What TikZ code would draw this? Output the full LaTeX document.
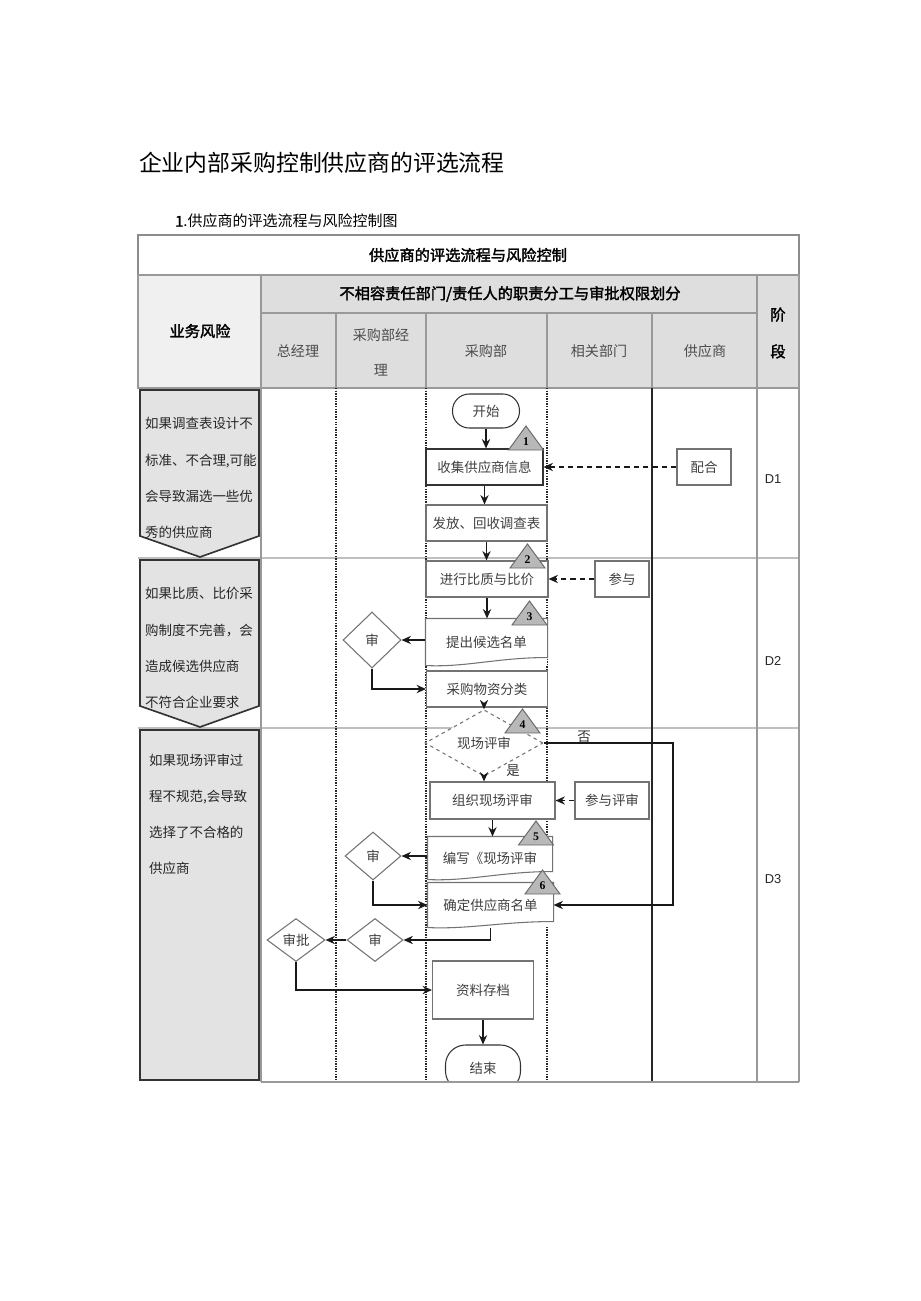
\documentclass[tikz,border=0pt]{standalone}
\usepackage{fontspec}
\setmainfont{Noto Sans CJK SC}
\newfontfamily\boldcjk{Noto Sans CJK SC}[FakeBold=2]
\newfontfamily\serifnum{Liberation Serif}
\newfontfamily\stagefont{Liberation Sans}
\usetikzlibrary{arrows.meta,shapes.geometric}

\begin{document}
\begin{tikzpicture}[
  x=0.03cm, y=-0.03cm,
  frame/.style={draw=black!45, line width=1.4pt},
  hdr/.style={fill=black!13},
  hdrlt/.style={fill=black!6},
  hline/.style={black!40, line width=1.4pt},
  lane/.style={black!85, line width=1.2pt, densely dotted},
  riskbox/.style={draw=black!80, fill=black!11, line width=1.4pt},
  risktxt/.style={anchor=west, align=left, text=black!85,
                  font=\fontsize{11.5}{30.8}\selectfont},
  htxt/.style={font=\boldcjk\fontsize{13}{16}\selectfont},
  ctxt/.style={text=black!70, align=center, font=\fontsize{12}{30}\selectfont},
  proc/.style={draw=black!55, fill=white, line width=0.9pt,
               minimum width=121*0.03cm, minimum height=36*0.03cm, inner sep=1pt,
               text=black!75, font=\fontsize{11.5}{14}\selectfont},
  docbox/.style={proc, draw=none},
  docline/.style={draw=black!55, line width=0.9pt},
  term/.style={proc, draw=black!80, rounded corners=0.5cm,
               minimum width=67*0.03cm, minimum height=34*0.03cm},
  decide/.style={diamond, draw=black!55, fill=white, line width=0.9pt, inner sep=0pt,
                 minimum width=58*0.03cm, minimum height=56*0.03cm,
                 text=black!75, font=\fontsize{11.5}{14}\selectfont},
  arr/.style={-{Stealth[length=8pt,width=7pt]}, line width=1.3pt, black!90},
  darr/.style={arr, dash pattern=on 4.5pt off 3.5pt},
  numtri/.style={fill=black!28, draw=black!60, line width=0.8pt},
  numlbl/.style={inner sep=0pt, font=\serifnum\bfseries\fontsize{10}{10}\selectfont},
  lbl/.style={inner sep=1pt, text=black!80, font=\fontsize{11.5}{14}\selectfont},
  stage/.style={text=black!85, font=\stagefont\fontsize{11}{13}\selectfont},
]
  \useasboundingbox (0,0) rectangle (920,1301);

  % --- Titles ---
  \node[anchor=west, font=\fontsize{19.5}{22}\selectfont] (title) at (135,163)
    {企业内部采购控制供应商的评选流程};
  \node[anchor=west, font=\fontsize{12.8}{15}\selectfont] (subtitle) at (171,221)
    {{\boldcjk 1}.供应商的评选流程与风险控制图};

  % --- Table head ---
  \fill[hdr] (261,275) rectangle (799,388);
  \fill[hdrlt] (138,275) rectangle (261,388);
  \draw[frame] (138,235) rectangle (799,275);
  \draw[hline] (138,275) rectangle (799,388);
  \draw[hline] (261,313) -- (757,313);
  \foreach \x in {261,757}
    \draw[hline] (\x,275) -- (\x,388);
  \foreach \x in {336,426,547,652}
    \draw[hline] (\x,313) -- (\x,388);

  \node[htxt] (hdtitle) at (468,255) {供应商的评选流程与风险控制};
  \node[htxt] (hdsub) at (510,294) {不相容责任部门/责任人的职责分工与审批权限划分};
  \node[htxt] (hdrisk) at (200,331) {业务风险};
  \node[ctxt] (hdgm) at (298,351) {总经理};
  \node[ctxt] (hdpm) at (381,352) {采购部经\\理};
  \node[ctxt] (hdpd) at (486,351) {采购部};
  \node[ctxt] (hdrel) at (599,351) {相关部门};
  \node[ctxt] (hdsup) at (705,351) {供应商};
  \node[htxt, align=center, font=\boldcjk\fontsize{13}{31.5}\selectfont] (hdstage)
    at (778,333) {阶\\段};

  % --- Body grid ---
  \foreach \y in {558,728}
    \draw[black!25, line width=1.2pt] (138,\y) -- (799,\y);
  \foreach \x in {261,757,799}
    \draw[hline] (\x,388) -- (\x,1082);
  \foreach \x in {336,426,547}
    \draw[lane] (\x,388) -- (\x,1082);
  \draw[black!85, line width=1.1pt] (652,388) -- (652,1082);

  % --- Risk column ---
  \draw[riskbox] (140,390) -- (259,390) -- (259,536) -- (200,557) -- (140,536) -- cycle;
  \draw[riskbox] (140,560) -- (259,560) -- (259,706) -- (200,727) -- (140,706) -- cycle;
  \draw[riskbox] (140,730) rectangle (259,1080);

  \node[risktxt] (risk1) at (141,478)
    {如果调查表设计不\\标准、不合理,可能\\会导致漏选一些优\\秀的供应商};
  \node[risktxt] (risk2) at (141,648)
    {如果比质、比价采\\购制度不完善，会\\造成候选供应商\\不符合企业要求};
  \node[risktxt] (risk3) at (145,814)
    {如果现场评审过\\程不规范,会导致\\选择了不合格的\\供应商};

  % --- Stages ---
  \node[stage] (d1) at (773,479) {D1};
  \node[stage] (d2) at (773,661) {D2};
  \node[stage] (d3) at (773,879) {D3};

  % ======== D1 ========
  \node[term] (start) at (486,411) {开始};
  \node[proc, minimum width=117*0.03cm, draw=black!80] (collect) at (484.5,467) {收集供应商信息};
  \node[proc] (survey) at (486.5,523) {发放、回收调查表};
  \node[proc, minimum width=54*0.03cm] (coop) at (704,467) {配合};

  % ======== D2 ========
  \node[proc, minimum width=122*0.03cm] (compare) at (487,579) {进行比质与比价};
  \node[proc, minimum width=54*0.03cm] (join) at (622,579) {参与};
  \node[docbox, minimum height=46*0.03cm] (shortlist) at (486.5,642) {提出候选名单};
  \draw[docline] (shortlist.south west) |- (shortlist.north east)
    -- ([yshift=0.24cm]shortlist.south east)
    .. controls +(-50,0) and +(40,2) .. (shortlist.south west);
  \node[decide] (shen1) at (372,640) {审};
  \node[proc] (classify) at (487,689) {采购物资分类};

  % ======== D3 ========
  \node[decide, dashed, minimum width=118*0.03cm, minimum height=42*0.03cm] (onsite)
    at (484,743) {现场评审};
  \node[proc, minimum width=125*0.03cm, minimum height=37*0.03cm] (organize)
    at (492.5,800.5) {组织现场评审};
  \node[proc, minimum width=74*0.03cm, minimum height=37*0.03cm] (evalj)
    at (612,800.5) {参与评审};
  \node[docbox, minimum width=124*0.03cm, minimum height=42*0.03cm] (write)
    at (490,858) {编写《现场评审};
  \draw[docline] (write.south west) |- (write.north east)
    -- ([yshift=0.24cm]write.south east)
    .. controls +(-50,0) and +(40,2) .. (write.south west);
  \node[decide, minimum width=56*0.03cm, minimum height=48*0.03cm] (shen2) at (373,856) {审};
  \node[docbox, minimum width=125*0.03cm, minimum height=44*0.03cm] (confirm)
    at (490.5,905) {确定供应商名单};
  \draw[docline] (confirm.south west) |- (confirm.north east)
    -- ([yshift=0.18cm]confirm.south east)
    .. controls +(-50,0) and +(40,2) .. (confirm.south west);
  \node[decide, minimum width=56*0.03cm, minimum height=43*0.03cm] (shen3) at (375,940) {审};
  \node[decide, minimum width=58*0.03cm, minimum height=43*0.03cm] (shenpi) at (296,940) {审批};
  \node[proc, minimum width=101*0.03cm, minimum height=58*0.03cm] (archive)
    at (483,990) {资料存档};
  \begin{scope}
    \clip (130,1000) rectangle (800,1082);
    \node[term, minimum width=75*0.03cm, minimum height=46*0.03cm, rounded corners=0.6cm]
      (finish) at (483,1068) {结束};
  \end{scope}
  \draw[hline] (261,1082) -- (799,1082);

  \node[lbl] (nolbl) at (584,737) {否};
  \node[lbl] (yeslbl) at (513,771) {是};
  \coordinate (noturn) at (673,743);

  % --- Connectors ---
  \draw[arr] (start.south) -- (start.south |- collect.north);
  \draw[arr] (collect.south) -- (collect.south |- survey.north);
  \draw[arr] (survey.south) -- (survey.south |- compare.north);
  \draw[arr] (compare.south) -- (compare.south |- shortlist.north);
  \draw[darr] (coop.west) -- (collect.east);
  \draw[darr] (join.west) -- (compare.east);
  \draw[arr] (shen1.east -| shortlist.west) -- (shen1.east);
  \draw[arr] (shen1.south) |- (classify.west);
  \draw[arr] (classify.south -| onsite.north) -- (onsite.north);
  \draw[arr] (onsite.east) -- (noturn) |- (confirm.east);
  \draw[arr] (onsite.south) -- (onsite.south |- organize.north);
  \draw[darr] (evalj.west) -- (organize.east);
  \draw[arr] (organize.south) -- (organize.south |- write.north);
  \draw[arr] (shen2.east -| write.west) -- (shen2.east);
  \draw[arr] (shen2.south) |- (confirm.west);
  \draw[arr] (confirm.south) |- (shen3.east);
  \draw[arr] (shen3.west) -- (shenpi.east);
  \draw[arr] (shenpi.south) |- (archive.west);
  \draw[arr] (archive.south) -- (archive.south |- finish.north);

  % --- Control points ---
  \foreach \n/\x/\y in {1/526/442, 2/527.5/560, 3/529.5/617, 4/522.5/725, 5/536/837, 6/542.5/886}{
    \filldraw[numtri] (\x,\y) ++(-17.5,8) -- ++(35,0) -- ++(-17.5,-24) -- cycle;
    \node[numlbl] (tri\n) at (\x,\y) {\n};
  }

\end{tikzpicture}
\end{document}
